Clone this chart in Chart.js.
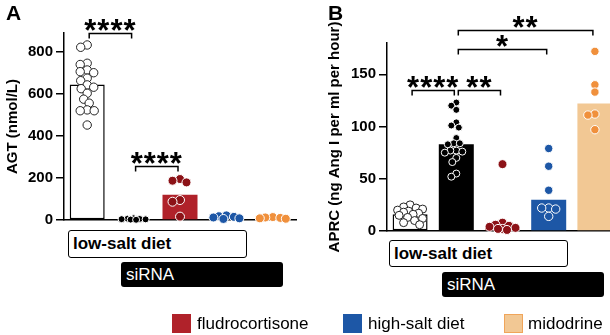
<!DOCTYPE html>
<html>
<head>
<meta charset="utf-8">
<script src="https://cdn.jsdelivr.net/npm/chart.js@4.4.1/dist/chart.umd.min.js"></script>
<style>
  body { margin: 0; width: 610px; height: 335px; overflow: hidden; background: #fff; position: relative; font-family: "Liberation Sans", Arial, sans-serif; color: #000; }
  canvas { position: absolute; top: 0; }
  #chartA { left: 0; }
  #chartB { left: 322px; }
  .panel { position: absolute; top: 2px; font-weight: bold; font-size: 21px; line-height: 21px; }
  .box { position: absolute; box-sizing: border-box; border-radius: 3px; font-size: 17px; display: flex; align-items: center; padding-left: 4px; }
  .low { border: 1.5px solid #000; background: #fff; font-weight: bold; }
  .si { background: #000; color: #fff; padding-left: 5px; }
  .sw { position: absolute; top: 314px; width: 19px; height: 19px; box-sizing: border-box; }
  .lt { position: absolute; top: 314px; height: 19px; line-height: 19px; font-size: 17px; }
</style>
</head>
<body>
<canvas id="chartA" width="300" height="250"></canvas>
<canvas id="chartB" width="300" height="262"></canvas>

<div class="panel" style="left:6px">A</div>
<div class="panel" style="left:328px">B</div>

<div class="box low" style="left:68px;top:230px;width:179px;height:28px">low-salt diet</div>
<div class="box si" style="left:121px;top:262px;width:162px;height:25px">siRNA</div>
<div class="box low" style="left:389px;top:240px;width:179px;height:27px">low-salt diet</div>
<div class="box si" style="left:442px;top:272px;width:162px;height:25px">siRNA</div>

<div class="sw" style="left:172px;background:#b0222a"></div>
<div class="lt" style="left:197px">fludrocortisone</div>
<div class="sw" style="left:343px;background:#1d57a6"></div>
<div class="lt" style="left:368px">high-salt diet</div>
<div class="sw" style="left:504px;background:#f2c894;border:1.5px solid #f0a55a"></div>
<div class="lt" style="left:528px">midodrine</div>

<script>
const groups = ['low-salt diet', 'low-salt diet + siRNA', 'fludrocortisone', 'high-salt diet', 'midodrine'];

// panel A: AGT (nmol/L)
const agtTicks = [0, 200, 400, 600, 800];
const agtBars = [645, 5, 120, 15, 10];
const agtCtrl = [833, 822, 746, 740, 714, 706, 701, 675, 663, 643, 632, 625, 603, 575, 556, 524, 520, 520, 452];
const agtSirna = [8, 6, 5, 4, 3, 2, 1];
const agtFludro = [195, 187, 179, 95, 87, 16];
const agtHighSalt = [22, 18, 15, 12, 8, 5];
const agtMido = [14, 12, 10, 8, 6];
const agtSig = [
  {from: 0, to: 1, level: 890, text: '****'},
  {from: 1, to: 2, level: 257, text: '****'}
];

// panel B: APRC (ng Ang I per ml per hour)
const aprcTicks = [0, 50, 100, 150];
const aprcBars = [16, 83, 3, 30, 122];
const aprcCtrl = [25, 23, 22, 21, 20, 19, 18, 17, 16, 15, 13, 12, 10, 8, 6];
const aprcSirna = [123, 120, 116, 104, 101, 99, 89, 84, 84, 83, 77, 77, 76, 75, 70, 66, 55, 52];
const aprcFludro = [64, 8, 6, 5, 4, 3, 2, 2, 1];
const aprcHighSalt = [79, 62, 39, 22, 22, 21, 14];
const aprcMido = [172, 140, 133, 112, 111, 97];
const aprcSig = [
  {from: 0, to: 1, level: 135, text: '****'},
  {from: 1, to: 2, level: 135, text: '**'},
  {from: 1, to: 3, level: 174, text: '*'},
  {from: 1, to: 4, level: 192.5, text: '**'}
];

const barFill = ['#ffffff', '#000000', '#b0222a', '#1d57a6', '#f2c894'];
const barLine = ['#000000', '#000000', '#b0222a', '#1d57a6', '#f2c894'];
const dotFill = ['#ffffff', '#000000', '#8c1217', '#1d57a6', '#f0903c'];
const dotLine = ['#222222', '#ffffff', '#ffffff', '#ffffff', '#ffffff'];

Chart.defaults.font.family = '"Liberation Sans", Arial, sans-serif';
Chart.defaults.color = '#000';

const bracketPlugin = {
  id: 'brackets',
  afterDatasetsDraw(chart, args, opts) {
    const ctx = chart.ctx, x = chart.scales.x, y = chart.scales.y;
    ctx.save();
    ctx.strokeStyle = '#000';
    ctx.fillStyle = '#000';
    ctx.lineWidth = 1.5;
    (opts.items || []).forEach(b => {
      const x1 = x.getPixelForValue(b.from) + 2;
      const x2 = x.getPixelForValue(b.to) - 2;
      const py = Math.round(y.getPixelForValue(b.level)) + 0.5;
      ctx.beginPath();
      ctx.moveTo(x1, py + 5);
      ctx.lineTo(x1, py);
      ctx.lineTo(x2, py);
      ctx.lineTo(x2, py + 5);
      ctx.stroke();
      ctx.font = 'bold 31px "Liberation Sans", Arial, sans-serif';
      ctx.letterSpacing = '1px';
      ctx.textAlign = 'center';
      ctx.textBaseline = 'alphabetic';
      const m = ctx.measureText(b.text);
      const cy = py - 9;
      ctx.fillText(b.text, (x1 + x2) / 2, cy + (m.actualBoundingBoxAscent - m.actualBoundingBoxDescent) / 2);
    });
    ctx.restore();
  }
};

// beeswarm in pixel space, kept inside +-maxW; returns x offsets in px
function swarm(py, sep, maxW) {
  const idx = py.map((_, k) => k).sort((a, b) => py[a] - py[b]);
  const placed = [], off = [];
  idx.forEach(k => {
    let pick = null, bestDist = -1, bestDx = 0;
    for (let s = 0; s <= maxW * 4; s++) {
      const dx = (s % 2 ? -1 : 1) * Math.ceil(s / 2) * 0.5;
      let dmin = Infinity;
      placed.forEach(p => { dmin = Math.min(dmin, Math.hypot(p[0] - dx, p[1] - py[k])); });
      if (dmin >= sep) { pick = dx; break; }
      if (dmin > bestDist + 0.3) { bestDist = dmin; bestDx = dx; }
    }
    if (pick === null) pick = bestDx;
    off[k] = pick;
    placed.push([pick, py[k]]);
  });
  return off;
}

function spread(chart) {
  const y = chart.scales.y, xp = chart.scales.xp;
  const unit = xp.getPixelForValue(1) - xp.getPixelForValue(0);
  chart.data.datasets.forEach(ds => {
    if (ds.type !== 'scatter') return;
    const g = Math.round(ds.data[0].x);
    const py = ds.data.map(p => y.getPixelForValue(p.y));
    const off = swarm(py, ds.pointRadius * 1.6, 13);
    ds.data = ds.data.map((p, k) => ({x: g + off[k] / unit, y: p.y}));
  });
  chart.update('none');
}

function makeChart(id, bars, points, radii, ticks, yMax, title, sig, padTop, padBottom, axisW) {
  const datasets = [{
    type: 'bar',
    xAxisID: 'x',
    data: bars,
    backgroundColor: barFill,
    borderColor: barLine,
    borderWidth: [1.5, 0, 0, 0, 0],
    borderSkipped: false,
    grouped: false,
    barPercentage: 0.76,
    categoryPercentage: 1,
    maxBarThickness: 35,
    order: 2
  }];
  points.forEach((vals, g) => {
    datasets.push({
      type: 'scatter',
      xAxisID: 'xp',
      data: vals.map(v => ({x: g, y: v})),
      pointRadius: radii[g],
      pointBackgroundColor: dotFill[g],
      pointBorderColor: dotLine[g],
      pointBorderWidth: 1,
      clip: false,
      order: 1
    });
  });
  const chart = new Chart(document.getElementById(id), {
    data: {labels: groups, datasets: datasets},
    options: {
      responsive: false,
      animation: false,
      events: [],
      layout: {autoPadding: false, padding: {top: padTop, right: 4, bottom: padBottom, left: 0}},
      plugins: {legend: {display: false}, tooltip: {enabled: false}, brackets: {items: sig}},
      scales: {
        x: {
          type: 'category',
          offset: true,
          ticks: {display: false},
          grid: {display: false},
          border: {color: '#000', width: 1.5},
          afterFit: s => { s.height = 5; s.paddingLeft = s.paddingRight = 0; }
        },
        xp: {type: 'linear', min: -0.5, max: 4.5, display: false},
        y: {
          min: 0,
          max: yMax,
          afterBuildTicks: s => { s.ticks = ticks.map(v => ({value: v})); },
          ticks: {font: {size: 15, weight: 'bold'}, padding: 3, color: '#000'},
          grid: {display: true, drawOnChartArea: false, drawTicks: true, tickLength: 8, color: '#000', lineWidth: 1.5},
          border: {color: '#000', width: 1.5},
          title: {display: true, text: title, font: {size: 15, weight: 'bold'}, color: '#000'},
          afterFit: s => { s.width = axisW; s.paddingTop = s.paddingBottom = 0; }
        }
      }
    },
    plugins: [bracketPlugin]
  });
  spread(chart);
  return chart;
}

makeChart('chartA', agtBars, [agtCtrl, agtSirna, agtFludro, agtHighSalt, agtMido],
  [4.2, 3.5, 4.5, 4.5, 4.5], agtTicks, 890, 'AGT (nmol/L)', agtSig, 33, 25, 64);
makeChart('chartB', aprcBars, [aprcCtrl, aprcSirna, aprcFludro, aprcHighSalt, aprcMido],
  [4, 3.5, 4.5, 4.2, 4.2], aprcTicks, 180, 'APRC (ng Ang I per ml per hour)', aprcSig, 43, 26, 65);
</script>
</body>
</html>
